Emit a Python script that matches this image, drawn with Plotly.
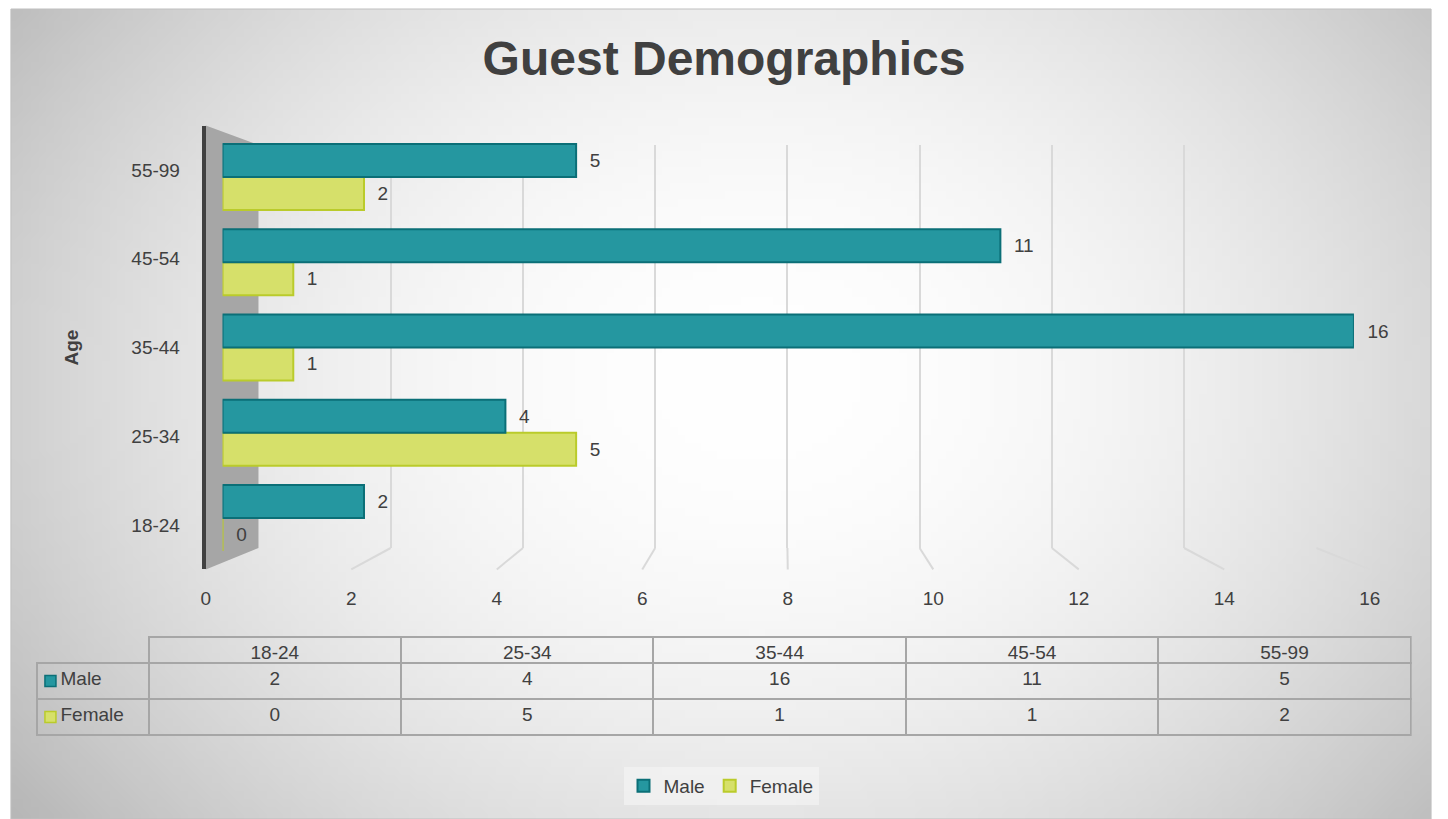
import base64
import struct
import zlib

import numpy as np
import plotly.graph_objects as go

# ---------------- data ----------------
categories = ["18-24", "25-34", "35-44", "45-54", "55-99"]
male = [2, 4, 16, 11, 5]
female = [0, 5, 1, 1, 2]
x_ticks = [0, 2, 4, 6, 8, 10, 12, 14, 16]
series_names = ["Male", "Female"]
title_text = "Guest Demographics"
axis_title = "Age"

# ---------------- styling ----------------
FONT = "Liberation Sans, Arial, sans-serif"
TXT = "#404040"
MALE_FILL, MALE_LINE = "#2597A0", "#0B6F77"
FEM_FILL, FEM_LINE = "#D6E06A", "#BACB2B"
W, H = 1448, 819


def px(x):
    return x / W


def py(y):
    return 1 - y / H


def gradient_png(w, h):
    ys, xs = np.mgrid[0:h, 0:w]
    X = xs / (w - 1) * 1436 + 6
    Y = ys / (h - 1) * 810 + 9
    r2 = ((X - 760) / 720) ** 2 + ((Y - 380) / 560) ** 2
    v = np.clip(255 - 42 * r2, 0, 255).astype(np.uint8)
    raw = b"".join(b"\x00" + v[i].tobytes() for i in range(h))

    def chunk(t, d):
        c = struct.pack(">I", len(d)) + t + d
        return c + struct.pack(">I", zlib.crc32(t + d) & 0xFFFFFFFF)

    png = (b"\x89PNG\r\n\x1a\n"
           + chunk(b"IHDR", struct.pack(">IIBBBBB", w, h, 8, 0, 0, 0, 0))
           + chunk(b"IDAT", zlib.compress(raw))
           + chunk(b"IEND", b""))
    return "data:image/png;base64," + base64.b64encode(png).decode()


# axis geometry (pixels)
BAR_X = (220, 1364)
BAR_Y = (560.6, 134.4)
FRONT_X = (203, 1380)
LAB_Y = (569.4, 125.6)
BACK_X = (256.3, 1326)
BACK_Y = (548, 145)
TBL_X = (37, 1411)
TBL_DOMAIN_X = (32, 1422)
TBL_TOP, TBL_HEAD, TBL_ROW = 637, 26, 36
LABEL_COL = 112

fig = go.Figure()

# back wall gridlines (subplot xy, drawn first -> behind bars)
fig.add_trace(go.Scatter(x=[0], y=[0], mode="markers", marker=dict(opacity=0),
                         showlegend=False, hoverinfo="skip", xaxis="x", yaxis="y"))

# bars (subplot x2y2)
fig.add_trace(go.Bar(
    name=series_names[1], y=categories, x=female, orientation="h",
    marker=dict(color=FEM_FILL, line=dict(color=FEM_LINE, width=2)),
    text=female, texttemplate="  %{x}", textposition="outside",
    textfont=dict(size=19, color=TXT, family=FONT), cliponaxis=False,
    hoverinfo="skip", xaxis="x2", yaxis="y2"))
fig.add_trace(go.Bar(
    name=series_names[0], y=categories, x=male, orientation="h",
    marker=dict(color=MALE_FILL, line=dict(color=MALE_LINE, width=2)),
    text=male, texttemplate="  %{x}", textposition="outside",
    textfont=dict(size=19, color=TXT, family=FONT), cliponaxis=False,
    hoverinfo="skip", xaxis="x2", yaxis="y2"))

# front axis (tick labels + category labels) on x3y3
fig.add_trace(go.Scatter(x=[0] * len(categories), y=categories, mode="markers",
                         marker=dict(opacity=0), showlegend=False, hoverinfo="skip",
                         xaxis="x3", yaxis="y3"))

# legend keys inside the data table (x4y4)
fig.add_trace(go.Scatter(
    x=[0.08, 0.08], y=series_names, mode="markers", showlegend=False, hoverinfo="skip",
    marker=dict(symbol="square", size=11, color=[MALE_FILL, FEM_FILL],
                line=dict(color=[MALE_LINE, FEM_LINE], width=1.5)),
    xaxis="x4", yaxis="y4"))

# data table
row_labels = ["\u00a0\u00a0\u00a0" + s for s in series_names]
fig.add_trace(go.Table(
    domain=dict(x=[px(TBL_DOMAIN_X[0]), px(TBL_DOMAIN_X[1])], y=[py(770), py(TBL_TOP)]),
    columnwidth=[LABEL_COL] + [(TBL_X[1] - TBL_X[0] - LABEL_COL) / len(categories)] * len(categories),
    header=dict(values=[""] + categories, height=TBL_HEAD,
                fill=dict(color="rgba(0,0,0,0)"),
                line=dict(color=["rgba(0,0,0,0)"] + ["#a6a6a6"] * len(categories), width=2),
                font=dict(size=19, color=TXT, family=FONT), align="center"),
    cells=dict(values=[row_labels] + [[m, f] for m, f in zip(male, female)], height=TBL_ROW,
               fill=dict(color="rgba(0,0,0,0)"),
               line=dict(color="#a6a6a6", width=2),
               font=dict(size=19, color=TXT, family=FONT),
               align=["left"] + ["center"] * len(categories)),
))

# shapes: panel border, left wall, grid floor stubs
shapes = [
    dict(type="rect", xref="paper", yref="paper", x0=px(6), x1=px(1442), y0=py(819), y1=py(9),
         line=dict(color="#bfbfbf", width=1), layer="below"),
    dict(type="path", xref="paper", yref="paper", layer="below",
         path=(f"M {px(FRONT_X[0])},{py(LAB_Y[1])} L {px(BACK_X[0])},{py(BACK_Y[1])} "
               f"L {px(BACK_X[0])},{py(BACK_Y[0])} L {px(FRONT_X[0])},{py(LAB_Y[0])} Z"),
         fillcolor="#a6a6a6", line=dict(width=0)),
]
for v in x_ticks[1:]:
    xb = BACK_X[0] + (BACK_X[1] - BACK_X[0]) * v / x_ticks[-1]
    xf = FRONT_X[0] + (FRONT_X[1] - FRONT_X[0]) * v / x_ticks[-1]
    shapes.append(dict(type="line", xref="paper", yref="paper", layer="below",
                       x0=px(xb), y0=py(BACK_Y[0]), x1=px(xf), y1=py(LAB_Y[0]),
                       line=dict(color="#d9d9d9", width=2)))

tbl_rows_top = TBL_TOP + TBL_HEAD
fig.update_layout(
    width=W, height=H,
    margin=dict(l=0, r=0, t=0, b=0),
    paper_bgcolor="white", plot_bgcolor="rgba(0,0,0,0)",
    font=dict(family=FONT, color=TXT, size=19),
    title=dict(text=f"<b>{title_text}</b>", x=0.5, xanchor="center", y=py(58), yanchor="middle",
               font=dict(size=48, color=TXT, family=FONT)),
    barmode="group", bargap=0.226, bargroupgap=0,
    showlegend=True,
    legend=dict(orientation="h", x=0.5, xanchor="center", y=py(786), yanchor="middle",
                traceorder="reversed", font=dict(size=19, color=TXT),
                bgcolor="rgba(244,244,244,0.7)", itemwidth=30),
    # back grid
    xaxis=dict(domain=[px(BACK_X[0]), px(BACK_X[1])], range=[0, 16], tickvals=x_ticks[1:],
               showgrid=True, gridcolor="#d9d9d9", gridwidth=2, showticklabels=False,
               zeroline=False, showline=False, ticks="", anchor="y", fixedrange=True),
    yaxis=dict(domain=[py(BACK_Y[0]), py(BACK_Y[1])], range=[0, 1], visible=False,
               anchor="x", fixedrange=True),
    # bars
    xaxis2=dict(domain=[px(BAR_X[0]), px(BAR_X[1])], range=[0, 16], visible=False,
                anchor="y2", fixedrange=True),
    yaxis2=dict(domain=[py(BAR_Y[0]), py(BAR_Y[1])], range=[-0.5, 4.5], visible=False,
                type="category", categoryorder="array", categoryarray=categories,
                anchor="x2", fixedrange=True),
    # front labels
    xaxis3=dict(domain=[px(FRONT_X[0]), px(FRONT_X[1])], range=[0, 16], tickvals=x_ticks,
                showgrid=False, zeroline=False, showline=False, anchor="y3",
                ticks="outside", ticklen=12, tickcolor="rgba(0,0,0,0)",
                tickfont=dict(size=19, color=TXT), fixedrange=True),
    yaxis3=dict(domain=[py(LAB_Y[0]), py(LAB_Y[1])], range=[-0.5, 4.5], type="category",
                categoryorder="array", categoryarray=categories, anchor="x3",
                showgrid=False, zeroline=False, showline=True, linecolor="#404040", linewidth=4,
                ticks="outside", ticklen=18, tickcolor="rgba(0,0,0,0)",
                tickfont=dict(size=19, color=TXT),
                title=dict(text=f"<b>{axis_title}</b>", standoff=49,
                           font=dict(size=19, color=TXT)), fixedrange=True),
    # table legend keys
    xaxis4=dict(domain=[px(TBL_X[0]), px(TBL_X[0] + LABEL_COL)], range=[0, 1], visible=False,
                anchor="y4", fixedrange=True),
    yaxis4=dict(domain=[py(tbl_rows_top + 2 * TBL_ROW), py(tbl_rows_top)], range=[-0.5, 1.5],
                type="category", categoryorder="array", categoryarray=series_names[::-1],
                visible=False, anchor="x4", fixedrange=True),
    images=[dict(source=gradient_png(180, 100), xref="paper", yref="paper",
                 x=px(6), y=py(9), sizex=px(1442) - px(6), sizey=py(9) - py(819),
                 xanchor="left", yanchor="top", sizing="stretch", layer="below")],
    shapes=shapes,
)

fig.write_html("out.html")
